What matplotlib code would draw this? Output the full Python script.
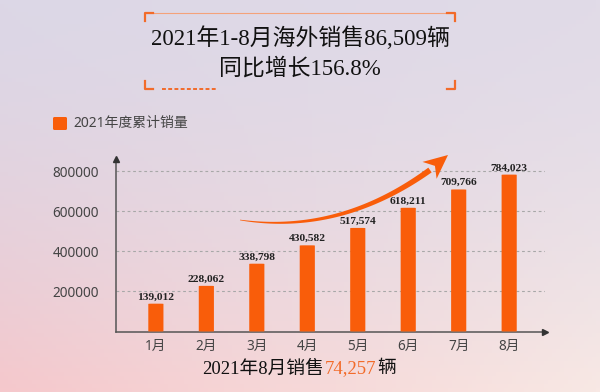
import numpy as np
import matplotlib.pyplot as plt
from matplotlib.patches import Polygon, FancyBboxPatch

plt.rcParams['font.family'] = ['Noto Sans', 'Noto Sans CJK SC']

months = ['1月', '2月', '3月', '4月', '5月', '6月', '7月', '8月']
sales = [139012, 228062, 338798, 430582, 517574, 618211, 709766, 784023]
yticks = [200000, 400000, 600000, 800000]
legend_label = '2021年度累计销量'
title_1 = '2021年1-8月海外销售86,509辆'
title_2 = '同比增长156.8%'
foot_a = '2021年8月销售'
foot_num = '74,257'
foot_b = '辆'

orange = '#F95D0A'
serif = ['Liberation Serif', 'Noto Sans CJK SC']

fig = plt.figure(figsize=(6, 3.92), dpi=100)

# background gradient
bg = fig.add_axes([0, 0, 1, 1], zorder=0)
corners = np.array([[[220, 215, 230], [225, 219, 232]],
                    [[245, 200, 204], [248, 232, 228]]]) / 255.0
ny, nx = 100, 150
ty = np.linspace(0, 1, ny)[:, None, None]
tx = np.linspace(0, 1, nx)[None, :, None]
top = corners[0, 0] * (1 - tx) + corners[0, 1] * tx
bot = corners[1, 0] * (1 - tx) + corners[1, 1] * tx
ty2 = ty ** 1.6
img = top * (1 - ty2) + bot * ty2
bg.imshow(img, extent=[0, 600, 392, 0], aspect='auto')
bg.set_xlim(0, 600)
bg.set_ylim(392, 0)
bg.axis('off')

# main chart
ax = fig.add_axes([115.5 / 600, 1 - 331.5 / 392, (545 - 115.5) / 600, (331.5 - 159) / 392], zorder=1)
ax.patch.set_alpha(0)
x = np.arange(len(months))
bars = ax.bar(x, sales, width=0.3, color=orange, zorder=3)
for b in bars:
    b.set_visible(False)
    r = FancyBboxPatch((b.get_x(), 0), b.get_width(), b.get_height(),
                       boxstyle='round,pad=0,rounding_size=0.06',
                       mutation_aspect=18000, fc=orange, ec='none', zorder=3)
    ax.add_patch(r)
for xi, v in zip(x, sales):
    ax.text(xi, v + 11000, f'{v:,}', ha='center', va='bottom', fontsize=8.2,
            family=serif, weight='bold', color='#222222', zorder=4)
ax.set_xlim(-0.8, 7.71)
ax.set_ylim(0, 862000)
ax.set_yticks(yticks)
ax.set_yticklabels([str(t) for t in yticks], fontsize=9.8, color='#444444')
ax.set_xticks(x)
ax.set_xticklabels(months, fontsize=9.8, color='#444444')
ax.tick_params(length=0, pad=5)
ax.tick_params(axis='y', pad=12)
for t in yticks:
    ax.axhline(t, color='#a8a8a8', lw=0.8, ls=(0, (2.5, 2.5)), zorder=1)
for s in ['top', 'right']:
    ax.spines[s].set_visible(False)
for s in ['left', 'bottom']:
    ax.spines[s].set_color('#555555')
    ax.spines[s].set_linewidth(1.1)
ax.plot(1, 0, '>', transform=ax.transAxes, color='#333333', ms=4, clip_on=False, zorder=5)
ax.plot(0, 1, '^', transform=ax.transAxes, color='#333333', ms=4, clip_on=False, zorder=5)

# overlay for decoration and text
fg = fig.add_axes([0, 0, 1, 1], zorder=2)
fg.patch.set_alpha(0)
fg.set_xlim(0, 600)
fg.set_ylim(392, 0)
fg.axis('off')

# title frame
fg.plot([145, 455], [13, 13], color='#F4A27A', lw=0.8)
fg.plot([145, 145, 153], [21, 13, 13], color='#F26B2A', lw=1.6)
fg.plot([447, 455, 455], [13, 13, 21], color='#F26B2A', lw=1.6)
fg.plot([145, 145, 153], [81, 89, 89], color='#F26B2A', lw=1.6)
fg.plot([447, 455, 455], [89, 89, 81], color='#F26B2A', lw=1.6)
fg.plot([162, 218], [89, 89], color='#F26B2A', lw=1.4, ls=(0, (2, 1.2)))

fg.text(300, 38, title_1, ha='center', va='center', fontsize=16.5, family=serif, color='#111111')
fg.text(300, 69, title_2, ha='center', va='center', fontsize=16.5, family=serif, color='#111111')

# legend
fg.add_patch(FancyBboxPatch((53, 117), 14, 13, boxstyle='round,pad=0,rounding_size=1.5',
                            fc=orange, ec='none'))
fg.text(73, 123.5, legend_label, ha='left', va='center', fontsize=10, color='#444444')

# footer
t1 = fg.text(202, 369, foot_a, ha='left', va='center', fontsize=13.5, family=serif, color='#111111')
fig.canvas.draw()
x2 = t1.get_window_extent().x1 * 600 / fig.bbox.width
t2 = fg.text(x2 + 1, 369, foot_num, ha='left', va='center', fontsize=13.5, family=serif, color='#F26B2A')
fig.canvas.draw()
x3 = t2.get_window_extent().x1 * 600 / fig.bbox.width
fg.text(x3 + 1, 369, foot_b, ha='left', va='center', fontsize=13.5, family=serif, color='#111111')

# curved arrow
p0, p1, p2 = np.array([240, 220]), np.array([340, 235]), np.array([430, 170])
t = np.linspace(0, 1, 60)[:, None]
curve = (1 - t) ** 2 * p0 + 2 * (1 - t) * t * p1 + t ** 2 * p2
d = np.gradient(curve, axis=0)
n = np.stack([-d[:, 1], d[:, 0]], axis=1)
n /= np.linalg.norm(n, axis=1)[:, None]
w = (0.3 + 2.6 * t[:, 0] ** 0.8)[:, None]
body = np.vstack([curve + n * w, (curve - n * w)[::-1]])
fg.add_patch(Polygon(body, closed=True, fc=orange, ec='none'))
tip = np.array([448, 155])
dirv = tip - p2
dirv = dirv / np.linalg.norm(dirv)
perp = np.array([-dirv[1], dirv[0]])
base = tip - dirv * 24
head = [tip, base + perp * 11, tip - dirv * 17, base - perp * 11]
fg.add_patch(Polygon(head, closed=True, fc=orange, ec='none'))

fig.savefig('out.png', dpi=100)
